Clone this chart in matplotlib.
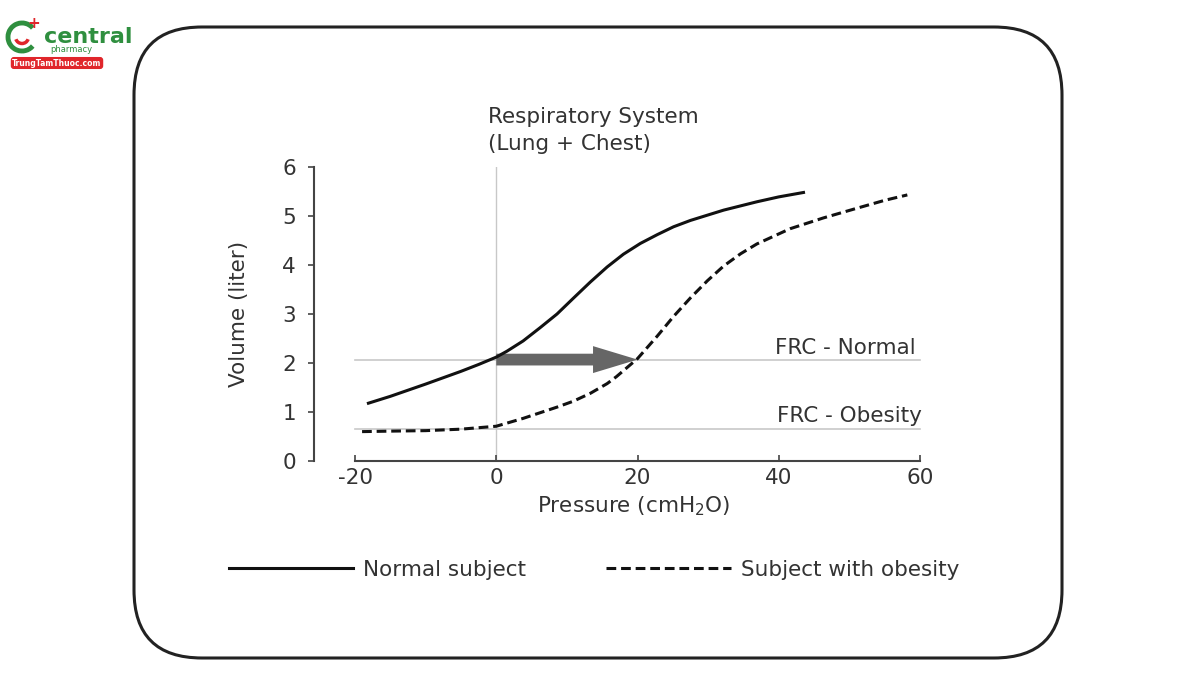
import matplotlib
matplotlib.use("Agg")
import matplotlib.pyplot as plt
from matplotlib.patches import FancyBboxPatch, FancyArrow, Arc

# Dati: pressione (cmH2O) e volume (litri)
p_normale = [-18.1, -15, -10, -5, -2.5, 0, 1.5, 3.8, 6.2, 8.6, 10.9, 13.3, 15.7, 18.0, 20.4,
             22.8, 25.1, 27.5, 32.2, 36.9, 40.0, 43.5]
v_normale = [1.18, 1.32, 1.57, 1.83, 1.97, 2.12, 2.24, 2.45, 2.72, 3.00, 3.32, 3.65, 3.96, 4.22, 4.44,
             4.62, 4.78, 4.91, 5.12, 5.29, 5.39, 5.48]

p_obesita = [-19.0, -15, -10, -5, 0, 3.8, 8.6, 10.9, 13.3, 15.7, 17.0, 20.0, 22.8, 25.1,
             27.5, 29.9, 32.2, 34.6, 36.9, 41.6, 46.3, 51.1, 55.0, 58.2]
v_obesita = [0.60, 0.61, 0.62, 0.65, 0.71, 0.87, 1.10, 1.22, 1.38, 1.58, 1.72, 2.09, 2.55, 2.95,
             3.33, 3.68, 3.98, 4.23, 4.43, 4.74, 4.96, 5.16, 5.32, 5.43]

frc_normale = 2.07
frc_obesita = 0.65

x_ticks = [-20, 0, 20, 40, 60]
y_ticks = [0, 1, 2, 3, 4, 5, 6]

grigio_testo = "#333333"
grigio_linee = "#c8c8c8"
fs = 15.5

plt.rcParams["font.family"] = "DejaVu Sans"
plt.rcParams["lines.scale_dashes"] = False

fig = plt.figure(figsize=(12, 6.83), dpi=100)
ax = fig.add_axes([0.2617, 0.325, 0.505, 0.4305])

# Bordo arrotondato attorno alla figura
bordo = FancyBboxPatch((1.34, 0.25), 9.28, 6.31, boxstyle="round,pad=0,rounding_size=0.68",
                       transform=fig.dpi_scale_trans, fill=False, lw=2.2, ec="#222222")
fig.add_artist(bordo)

# Linee di riferimento
ax.plot([0, 0], [0, 6], color=grigio_linee, lw=1, zorder=1)
ax.plot([-20, 60], [frc_normale, frc_normale], color=grigio_linee, lw=1.2, zorder=1, clip_on=False)
ax.plot([-20, 60], [frc_obesita, frc_obesita], color=grigio_linee, lw=1.2, zorder=1, clip_on=False)

# Curve
ax.plot(p_normale, v_normale, color="#111111", lw=2.2, label="Normal subject", zorder=3)
ax.plot(p_obesita, v_obesita, color="#111111", lw=2.2, dashes=(7, 3.5),
        label="Subject with obesity", zorder=3, clip_on=False)

# Freccia spostamento FRC
ax.add_patch(FancyArrow(0, frc_normale, 20, 0, width=0.24, head_width=0.55, head_length=6.3,
                        length_includes_head=True, color="#666666", lw=0, zorder=2))

ax.set_xlim(-25.8, 60)
ax.set_ylim(0, 6)
ax.set_xticks(x_ticks)
ax.set_xticklabels([str(v) for v in x_ticks])
ax.set_yticks(y_ticks)

for lato in ["top", "right"]:
    ax.spines[lato].set_visible(False)
ax.spines["bottom"].set_bounds(-20, 60)
ax.spines["left"].set_bounds(0, 6)
for lato in ["bottom", "left"]:
    ax.spines[lato].set_color("#444444")
    ax.spines[lato].set_linewidth(1.5)

ax.tick_params(axis="y", direction="out", length=4, width=1.2, color="#444444",
               labelsize=fs, labelcolor=grigio_testo, pad=9)
ax.tick_params(axis="x", direction="in", length=4, width=1.2, color="#444444",
               labelsize=fs, labelcolor=grigio_testo, pad=5)

ax.set_ylabel("Volume (liter)", fontsize=fs, color=grigio_testo, labelpad=24)
ax.text(19.5, -0.93, r"Pressure (cmH$_2$O)", fontsize=fs, color=grigio_testo,
        ha="center", va="center", clip_on=False)

ax.text(-1.2, 7.03, "Respiratory System", fontsize=fs, color=grigio_testo, ha="left", va="center")
ax.text(-1.2, 6.46, "(Lung + Chest)", fontsize=fs, color=grigio_testo, ha="left", va="center")

ax.text(59.4, 2.30, "FRC - Normal", fontsize=fs, color=grigio_testo, ha="right", va="center")
ax.text(60.3, 0.91, "FRC - Obesity", fontsize=fs, color=grigio_testo, ha="right", va="center")

ax.legend(ncol=2, loc="center", bbox_to_anchor=(0.495, 0.1654), bbox_transform=fig.transFigure,
          frameon=False, fontsize=fs, handlelength=5.8, handletextpad=0.47, columnspacing=3.7,
          labelcolor=grigio_testo)

# Logo in alto a sinistra
verde = "#2f8f3f"
rosso = "#e0262b"
fig.add_artist(Arc((0.22, 6.46), 0.28, 0.28, theta1=40, theta2=320,
                   transform=fig.dpi_scale_trans, lw=3.5, color=verde))
fig.add_artist(Arc((0.22, 6.46), 0.13, 0.13, theta1=200, theta2=340,
                   transform=fig.dpi_scale_trans, lw=2.5, color=rosso))
fig.text(0.335, 6.60, "+", transform=fig.dpi_scale_trans, fontsize=11, fontweight="bold",
         color=rosso, ha="center", va="center")
fig.text(0.44, 6.46, "central", transform=fig.dpi_scale_trans, fontsize=16,
         color=verde, ha="left", va="center", fontweight="semibold")
fig.text(0.71, 6.33, "pharmacy", transform=fig.dpi_scale_trans, fontsize=6,
         color=verde, ha="center", va="center")
fig.text(0.57, 6.20, "TrungTamThuoc.com", transform=fig.dpi_scale_trans, fontsize=5.5,
         color="white", fontweight="bold", ha="center", va="center",
         bbox=dict(boxstyle="round,pad=0.2,rounding_size=0.4", fc=rosso, ec="none"))

fig.savefig("out.png", dpi=100)
